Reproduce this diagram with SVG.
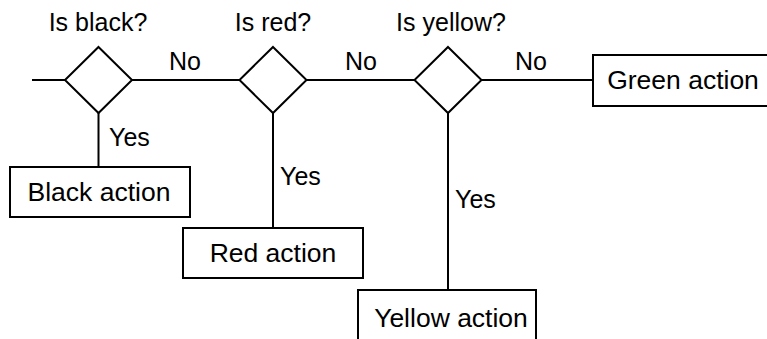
<svg xmlns="http://www.w3.org/2000/svg" width="767" height="339" viewBox="0 0 767 339">
<style>
.s{fill:none;stroke:#000;stroke-width:2}
.b{fill:#fff;stroke:#000;stroke-width:2}
text{font-family:"Liberation Sans",Arial,sans-serif;fill:#000}
.l{font-size:25px}
.t{font-size:26.5px;text-anchor:middle}
</style>
<rect width="767" height="339" fill="#fff"/>
<g id="connectors" class="s">
<line x1="32" y1="80" x2="65" y2="80"/>
<line x1="132" y1="80" x2="240" y2="80"/>
<line x1="306" y1="80" x2="415" y2="80"/>
<line x1="481" y1="80" x2="593" y2="80"/>
<line x1="98.5" y1="113" x2="98.5" y2="167"/>
<line x1="273" y1="113" x2="273" y2="228"/>
<line x1="448" y1="113" x2="448" y2="290"/>
</g>
<g id="labels" class="l">
<text x="169" y="70">No</text>
<text x="345" y="70">No</text>
<text x="515" y="70">No</text>
<text x="109" y="146">Yes</text>
<text x="280" y="185">Yes</text>
<text x="455" y="208">Yes</text>
</g>
<g id="d1"><polygon class="b" points="98.5,47 132,80 98.5,113 65,80"/><text class="l" x="98" y="31" text-anchor="middle">Is black?</text></g>
<g id="d2"><polygon class="b" points="273,47 306.5,80 273,113 239.5,80"/><text class="l" x="273" y="31" text-anchor="middle">Is red?</text></g>
<g id="d3"><polygon class="b" points="448,47 481.5,80 448,113 414.5,80"/><text class="l" x="451" y="31" text-anchor="middle">Is yellow?</text></g>
<g id="black"><rect class="b" x="10" y="167" width="180" height="50"/><text class="t" x="99" y="201">Black action</text></g>
<g id="red"><rect class="b" x="183" y="228" width="180" height="50"/><text class="t" x="273" y="262">Red action</text></g>
<g id="green"><rect class="b" x="593" y="55" width="180" height="51"/><text class="t" x="683" y="89">Green action</text></g>
<g id="yellow"><rect class="b" x="358" y="290" width="178" height="55"/><text class="t" x="451" y="327">Yellow action</text></g>
</svg>
